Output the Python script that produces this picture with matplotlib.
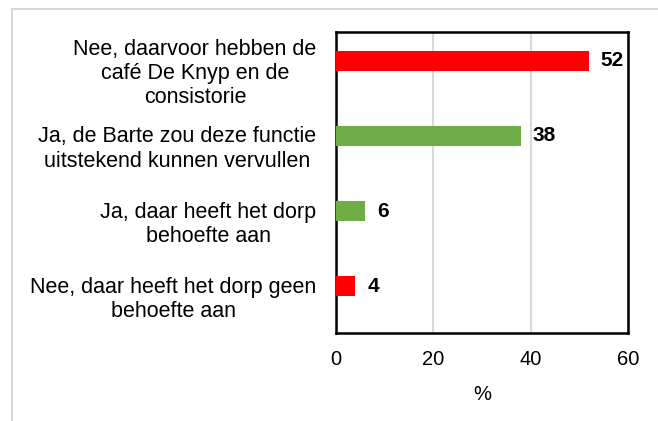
import matplotlib
matplotlib.use('Agg')
from matplotlib import pyplot as plt
from matplotlib.lines import Line2D

# data, top to bottom
labels = [
    'Nee, daarvoor hebben de\ncafé De Knyp en de\nconsistorie',
    'Ja, de Barte zou deze functie\nuitstekend kunnen vervullen',
    'Ja, daar heeft het dorp\nbehoefte aan',
    'Nee, daar heeft het dorp geen\nbehoefte aan',
]
values = [52, 38, 6, 4]
colors = ['#FF0000', '#70AD47', '#70AD47', '#FF0000']
xticks = [0, 20, 40, 60]

plt.rcParams['font.family'] = ['Liberation Sans', 'DejaVu Sans']

W, H = 658, 421
fig = plt.figure(figsize=(W / 100, H / 100), dpi=100)
ax = fig.add_axes([336 / W, 1 - 333 / H, (628 - 336) / W, (333 - 32) / H])

pos = list(range(len(values)))[::-1]
offset = 0.12
ax.barh([p + offset for p in pos], values, height=0.265, color=colors, zorder=3)
for p, v in zip(pos, values):
    ax.text(v + 2.4, p + offset, str(v), va='center', ha='left',
            fontsize=15, fontweight='bold', zorder=4)

ax.set_xlim(0, 60)
ax.set_ylim(-0.5, 3.5)
ax.set_xticks(xticks)
ax.set_yticks(pos)
ax.set_yticklabels(labels, multialignment='center', fontsize=15.5, linespacing=1.2)
ax.tick_params(axis='y', length=0, pad=14)
ax.tick_params(axis='x', length=0, pad=12.5, labelsize=14.5)
ax.set_xlabel('%', fontsize=14.5, labelpad=11.5)
ax.grid(axis='x', color='#d9d9d9', linewidth=1.5, zorder=0)
for s in ax.spines.values():
    s.set_color('black')
    s.set_linewidth(1.8)

# outer chart frame (top and left edges visible)
fig.add_artist(Line2D([12 / W, 1], [1 - 8.5 / H, 1 - 8.5 / H], color='#d9d9d9', linewidth=1.5))
fig.add_artist(Line2D([12 / W, 12 / W], [0, 1 - 8.5 / H], color='#d9d9d9', linewidth=1.5))

fig.savefig('out.png', dpi=100)
